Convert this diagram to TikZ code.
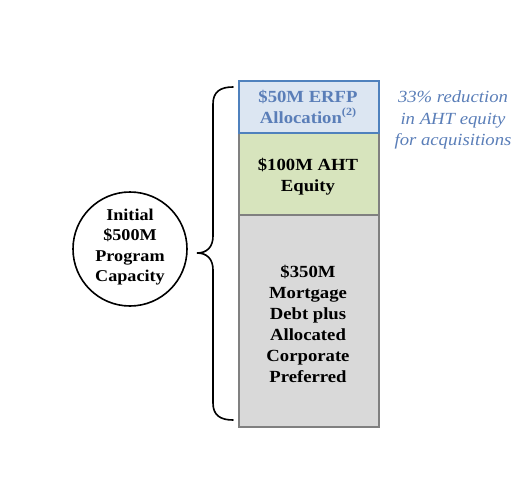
\documentclass[tikz,border=0pt]{standalone}
\usepackage{fontspec}
\setmainfont{Liberation Serif}[FakeStretch=1.1]
\newfontfamily\itfont{Liberation Serif}[FakeStretch=1.1]
\definecolor{bluebd}{HTML}{4F81BD}
\definecolor{bluefill}{HTML}{DCE6F2}
\definecolor{bluetxt}{HTML}{5A7EB8}
\definecolor{greenfill}{HTML}{D7E4BD}
\definecolor{grayfill}{HTML}{D9D9D9}
\definecolor{graybd}{HTML}{808080}
\begin{document}
\begin{tikzpicture}[x=1pt,y=-1pt,
  lbl/.style={font=\bfseries\fontsize{17}{21}\selectfont, align=center, text=black},
  blk/.style={draw=graybd, line width=1.6pt, inner sep=0pt}]
\useasboundingbox (0,0) rectangle (529,481);
% boxes
\node[blk, fill=grayfill, minimum width=140pt, minimum height=212pt, anchor=north west] (debt) at (238,214) {};
\node[blk, fill=greenfill, minimum width=140pt, minimum height=82pt, anchor=north west] (equity) at (238,132) {};
\node[blk, draw=bluebd, fill=bluefill, minimum width=140pt, minimum height=52pt, anchor=north west] (erfp) at (238,80) {};
\node[lbl, text=bluetxt] (erfpt) at (308,107) {\$50M ERFP\\Allocation\raisebox{0.45em}{\fontsize{11}{11}\selectfont(2)}};
\node[lbl] (equityt) at (308,177) {\$100M AHT\\Equity};
\node[lbl] (debtt) at (308,324) {\$350M\\Mortgage\\Debt plus\\Allocated\\Corporate\\Preferred};
% circle
\node[draw=black, line width=1.6pt, circle, minimum size=114pt, inner sep=0pt] (cap) at (130,249) {};
\node[lbl, font=\bfseries\fontsize{16.5}{20.5}\selectfont] (capt) at (130,247) {Initial\\\$500M\\Program\\Capacity};
% brace
\draw[line width=1.6pt, line cap=round] (233,87) .. controls (220,87) and (213,92) .. (213,104)
  -- (213,236) .. controls (213,247) and (207,253) .. (197,253)
  .. controls (207,253) and (213,259) .. (213,270)
  -- (213,403) .. controls (213,415) and (220,420) .. (233,420);
% note
\node[font=\itfont\itshape\fontsize{17}{21.5}\selectfont, text=bluetxt, align=center] (note) at (453,120) {33\% reduction\\in AHT equity\\for acquisitions};
\end{tikzpicture}
\end{document}
